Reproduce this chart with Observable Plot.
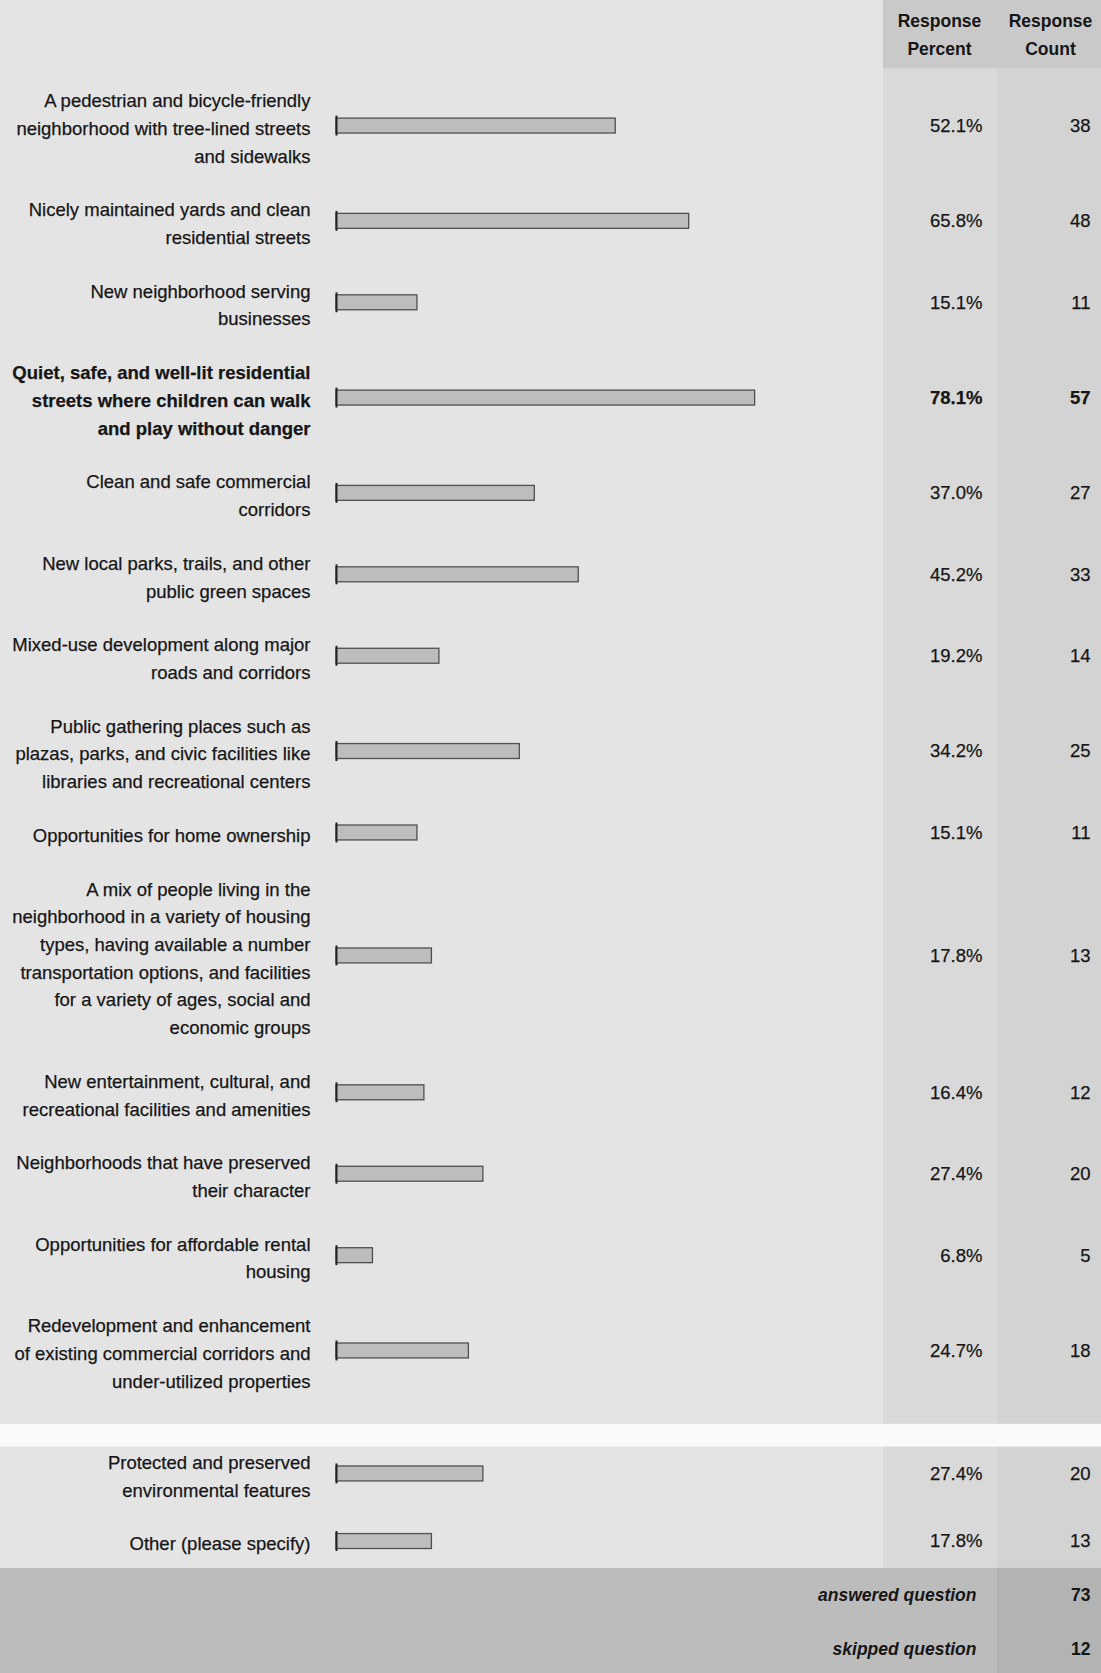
<!DOCTYPE html>
<html>
<head>
<meta charset="utf-8">
<script src="https://cdn.jsdelivr.net/npm/d3@7"></script>
<script src="https://cdn.jsdelivr.net/npm/@observablehq/plot@0.6"></script>
<style>
  html, body { margin: 0; padding: 0; background: #e4e4e4; }
  #chart svg { display: block; }
</style>
</head>
<body>
<div id="chart"></div>
<script>
// ---- data ----
const labels = [
  "A pedestrian and bicycle-friendly\nneighborhood with tree-lined streets\nand sidewalks",
  "Nicely maintained yards and clean\nresidential streets",
  "New neighborhood serving\nbusinesses",
  "Quiet, safe, and well-lit residential\nstreets where children can walk\nand play without danger",
  "Clean and safe commercial\ncorridors",
  "New local parks, trails, and other\npublic green spaces",
  "Mixed-use development along major\nroads and corridors",
  "Public gathering places such as\nplazas, parks, and civic facilities like\nlibraries and recreational centers",
  "Opportunities for home ownership",
  "A mix of people living in the\nneighborhood in a variety of housing\ntypes, having available a number\ntransportation options, and facilities\nfor a variety of ages, social and\neconomic groups",
  "New entertainment, cultural, and\nrecreational facilities and amenities",
  "Neighborhoods that have preserved\ntheir character",
  "Opportunities for affordable rental\nhousing",
  "Redevelopment and enhancement\nof existing commercial corridors and\nunder-utilized properties",
  "Protected and preserved\nenvironmental features",
  "Other (please specify)"
];
const percents = [52.1, 65.8, 15.1, 78.1, 37.0, 45.2, 19.2, 34.2, 15.1, 17.8, 16.4, 27.4, 6.8, 24.7, 27.4, 17.8];
const counts = [38, 48, 11, 57, 27, 33, 14, 25, 11, 13, 12, 20, 5, 18, 20, 13];
const highlighted = [3]; // row drawn in bold
const pageBreakBefore = 14; // second page starts with this row
const headerPercent = "Response\nPercent";
const headerCount = "Response\nCount";
const summaryLabels = ["answered question", "skipped question"];
const summaryCounts = [73, 12];

// ---- layout in "line units" ----
const PX_PER_LINE = 27.7;
const PAD = 0.94;
const TOP = 71;
const HEIGHT = 1673, WIDTH = 1101;
const FS = 18.5;
let cursor = 0;
const rows = labels.map((label, i) => {
  if (i === pageBreakBefore) cursor += 1;
  const n = label.split("\n").length;
  const h = n + PAD;
  const r = {label, pct: percents[i], count: counts[i], top: cursor, c: cursor + h / 2, bottom: cursor + h, bold: highlighted.includes(i), i};
  cursor += h;
  return r;
});
const summaryStart = cursor;
const summary = summaryLabels.map((label, i) => {
  const h = 1 + PAD;
  const r = {label, count: summaryCounts[i], top: cursor, c: cursor + h / 2};
  cursor += h;
  return r;
});
const gapStart = rows[pageBreakBefore - 1].bottom;
const gapEnd = rows[pageBreakBefore].top;

const yMin = -TOP / PX_PER_LINE;
const yMax = (HEIGHT - TOP) / PX_PER_LINE;

const font = "'Liberation Sans', Arial, Helvetica, sans-serif";
const txt = "#161616";

// x: 0..100 percent mapped onto bar area
const X0 = 336, X100 = 872;
const pxToX = p => (p - X0) / (X100 - X0) * 100;

const bands = [
  {x1: pxToX(883), x2: pxToX(997), y1: yMin, y2: summaryStart, fill: "#d9d9d9"},
  {x1: pxToX(997), x2: pxToX(1101), y1: yMin, y2: summaryStart, fill: "#d3d3d3"},
  {x1: pxToX(883), x2: pxToX(1101), y1: yMin, y2: -0.1, fill: "#c9c9c9"},
  {x1: pxToX(0), x2: pxToX(1101), y1: gapStart + 0.68, y2: gapEnd + 0.5, fill: "#fafafa"},
  {x1: pxToX(0), x2: pxToX(1101), y1: summaryStart, y2: yMax, fill: "#bcbcbc"},
  {x1: pxToX(997), x2: pxToX(1101), y1: summaryStart, y2: yMax, fill: "#b3b3b3"}
];

const normalRows = rows.filter(d => !d.bold);
const boldRows = rows.filter(d => d.bold);

const textSet = (data, weight) => [
  Plot.text(data, {x: 0, y: "c", text: "label", dx: -26, textAnchor: "end", lineAnchor: "middle",
    lineHeight: PX_PER_LINE / FS, fontSize: FS, fill: txt, fontWeight: weight, stroke: txt, strokeWidth: 0.25}),
  Plot.text(data, {x: 0, y: "c", text: d => d.pct.toFixed(1) + "%", dx: 646, textAnchor: "end",
    fontSize: FS, fill: txt, fontWeight: weight, stroke: txt, strokeWidth: 0.25}),
  Plot.text(data, {x: 0, y: "c", text: d => String(d.count), dx: 754, textAnchor: "end",
    fontSize: FS, fill: txt, fontWeight: weight, stroke: txt, strokeWidth: 0.25})
];

const plot = Plot.plot({
  width: WIDTH,
  height: HEIGHT,
  margin: 0,
  style: {background: "#e4e4e4", fontFamily: font},
  x: {domain: [0, 100], range: [X0, X100], axis: null},
  y: {domain: [yMin, yMax], range: [0, HEIGHT], axis: null},
  marks: [
    Plot.rect(bands, {x1: "x1", x2: "x2", y1: "y1", y2: "y2", fill: "fill"}),
    // bars
    Plot.rect(rows, {x1: 0, x2: "pct", y1: d => d.c - 0.27, y2: d => d.c + 0.27,
      fill: "#bdbdbd", stroke: "#3a3a3a", strokeWidth: 1.3, strokeOpacity: 0.85}),
    Plot.ruleX(rows, {x: 0, y1: d => d.c - 0.36, y2: d => d.c + 0.36, stroke: "#222", strokeWidth: 2}),
    ...textSet(normalRows, "normal"),
    ...textSet(boldRows, "bold"),
    // header
    Plot.text([headerPercent], {x: 0, y: -1.41, text: d => d, dx: 603, textAnchor: "middle", lineAnchor: "middle",
      lineHeight: 28 / 17.5, fontSize: 17.5, fontWeight: "bold", fill: txt}),
    Plot.text([headerCount], {x: 0, y: -1.41, text: d => d, dx: 714, textAnchor: "middle", lineAnchor: "middle",
      lineHeight: 28 / 17.5, fontSize: 17.5, fontWeight: "bold", fill: txt}),
    // summary
    Plot.text(summary, {x: 0, y: "c", text: "label", dx: 640, textAnchor: "end", fontSize: 17.5,
      fontWeight: "bold", fontStyle: "italic", fill: txt}),
    Plot.text(summary, {x: 0, y: "c", text: d => String(d.count), dx: 754, textAnchor: "end", fontSize: 17.5,
      fontWeight: "bold", fill: txt})
  ]
});
document.getElementById("chart").appendChild(plot);
</script>
</body>
</html>
